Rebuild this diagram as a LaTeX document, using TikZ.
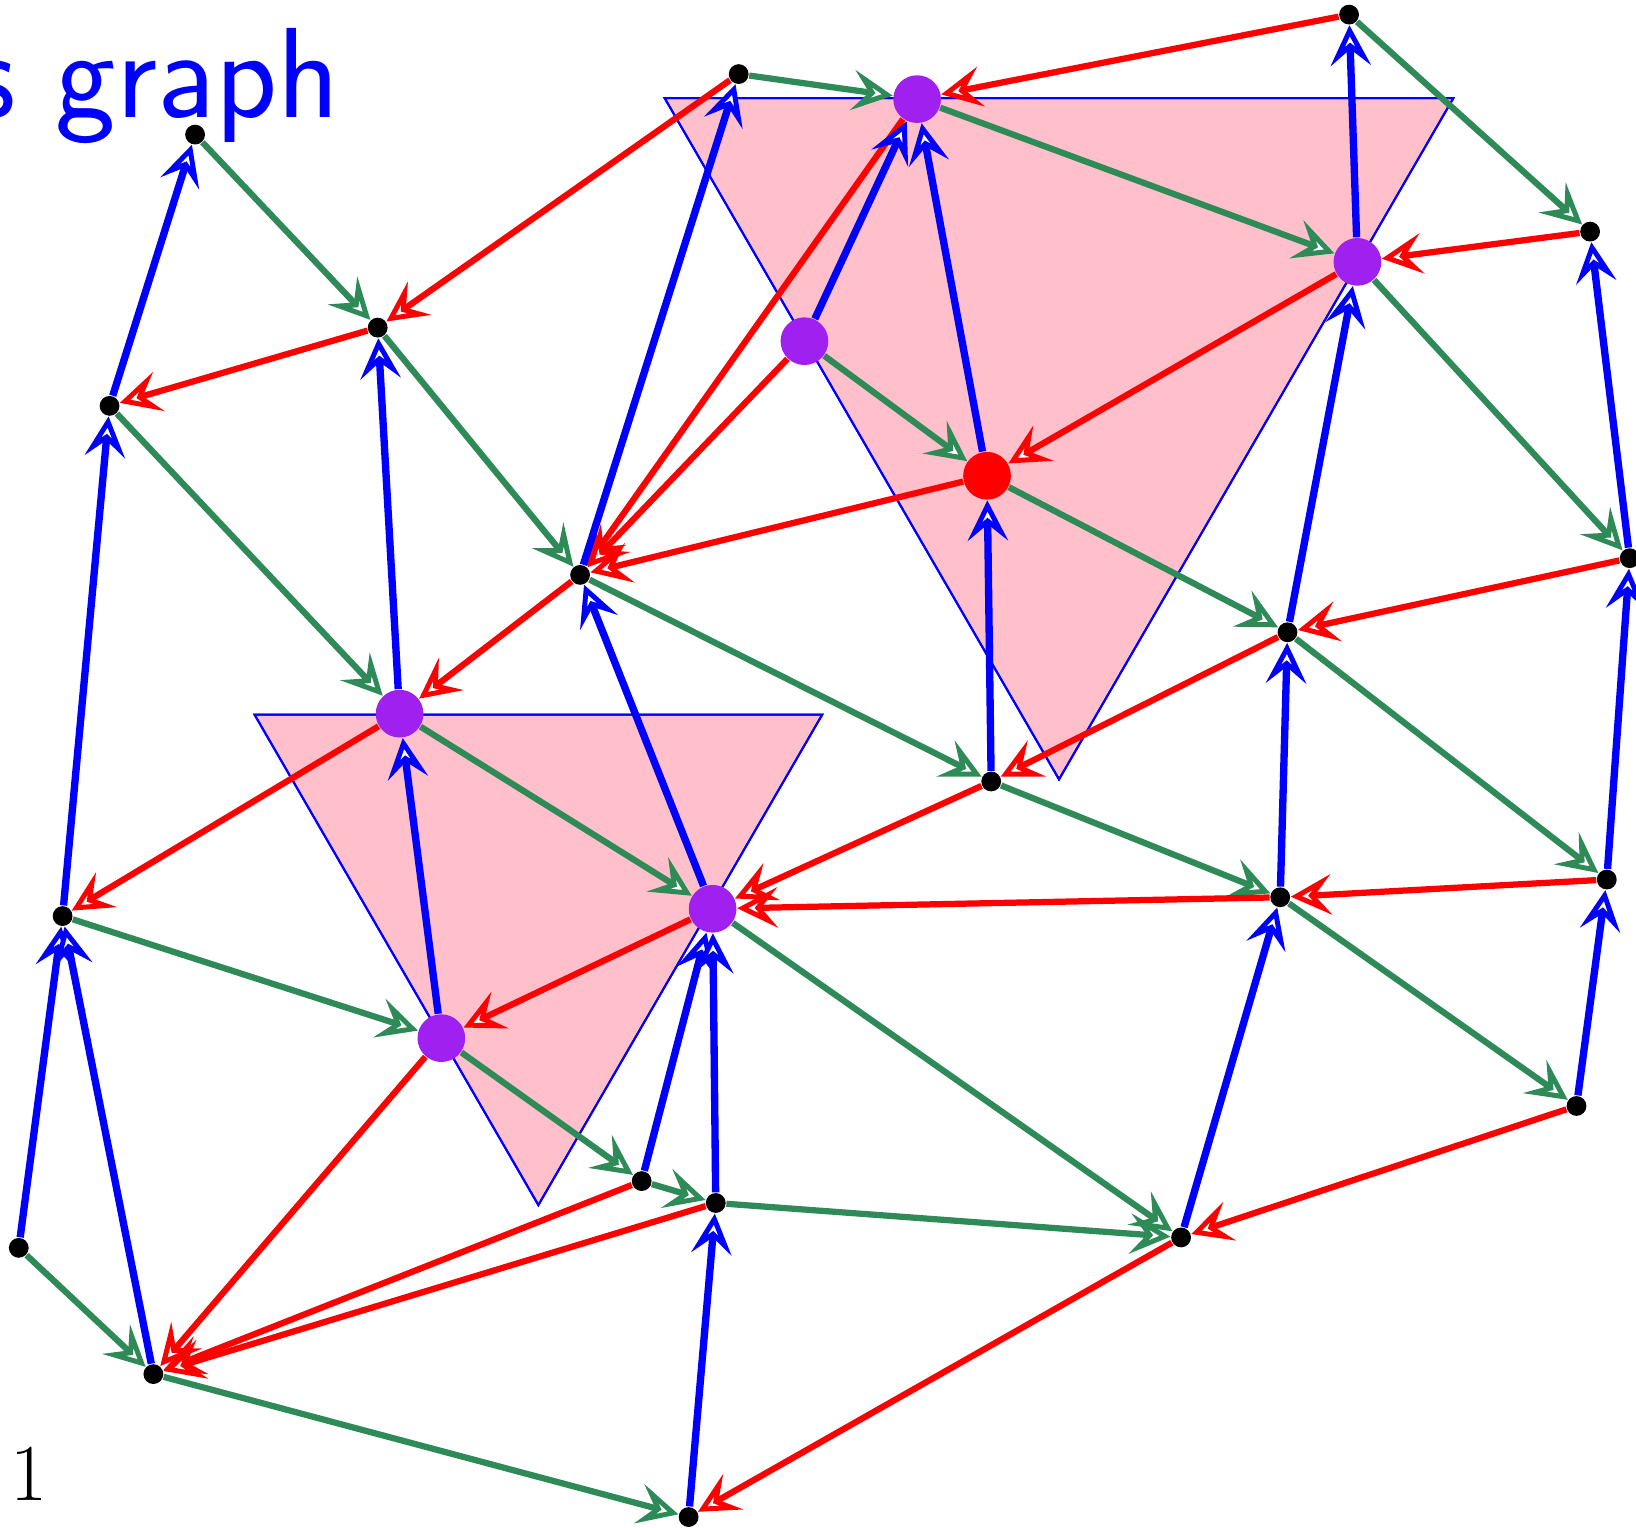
\documentclass[tikz,border=0pt]{standalone}
\usetikzlibrary{arrows.meta}
\definecolor{gpurple}{RGB}{160,32,240}
\definecolor{ggreen}{RGB}{46,139,87}
\definecolor{gpink}{RGB}{255,192,203}
\tikzset{
  dot/.style={circle, fill=black, inner sep=0pt, minimum size=5.4pt},
  pdot/.style={circle, fill=gpurple, inner sep=0pt, minimum size=13pt},
  rdot/.style={circle, fill=red, inner sep=0pt, minimum size=13pt},
  arrtip/.style={-{Stealth[length=11pt, width=11pt, inset=4.5pt, line width=1.35pt, fill=white]}},
  ge/.style={draw=ggreen, line width=1.7pt, arrtip},
  re/.style={draw=red, line width=1.7pt, arrtip},
  be/.style={draw=blue, line width=2pt, arrtip},
  tri/.style={fill=gpink, draw=blue, line width=0.55pt},
}
\begin{document}
\begin{tikzpicture}[x=0.01cm, y=-0.01cm]
\useasboundingbox (0,0) rectangle (1568,1464);
% triangles
\fill[tri] (637,94) -- (1393,94) -- (1015,747) -- cycle;
\fill[tri] (244,685) -- (788,685) -- (516,1155) -- cycle;
\draw[tri, fill=none] (637,94) -- (1393,94) -- (1015,747) -- cycle;
\draw[tri, fill=none] (244,685) -- (788,685) -- (516,1155) -- cycle;
% texts
\node[anchor=base east, inner sep=0pt, text=blue, font=\fontsize{35}{42}\selectfont\sffamily] (title) at (326,113) {s graph};
\node[anchor=base, inner sep=0pt, font=\fontsize{22}{26}\selectfont] (num) at (28,1438) {1};
% nodes
\node[dot] (A) at (708,71) {};
\node[dot] (B) at (1293,14) {};
\node[dot] (C) at (187,129) {};
\node[dot] (D) at (1524,222) {};
\node[dot] (E) at (362,314) {};
\node[dot] (F) at (105,389) {};
\node[dot] (G) at (556,551) {};
\node[dot] (H) at (1562,535) {};
\node[dot] (I) at (1234,606) {};
\node[dot] (J) at (950,749) {};
\node[dot] (K) at (60,878) {};
\node[dot] (L) at (1540,843) {};
\node[dot] (M) at (1227,860) {};
\node[dot] (N) at (1511,1060) {};
\node[dot] (O) at (18,1196) {};
\node[dot] (P) at (615,1132) {};
\node[dot] (Q) at (686,1153) {};
\node[dot] (R) at (1132,1186) {};
\node[dot] (S) at (147,1317) {};
\node[dot] (T) at (660,1454) {};
\node[pdot] (P1) at (879,95) {};
\node[pdot] (P2) at (1301,251) {};
\node[pdot] (P3) at (771,327) {};
\node[pdot] (P4) at (383,684) {};
\node[pdot] (P5) at (683,871) {};
\node[pdot] (P6) at (423,995) {};
\node[rdot] (R1) at (946,456) {};
% green edges
\draw[ge] (A) -- (P1);
\draw[ge] (P1) -- (P2);
\draw[ge] (B) -- (D);
\draw[ge] (C) -- (E);
\draw[ge] (P2) -- (H);
\draw[ge] (P3) -- (R1);
\draw[ge] (E) -- (G);
\draw[ge] (F) -- (P4);
\draw[ge] (R1) -- (I);
\draw[ge] (G) -- (J);
\draw[ge] (I) -- (L);
\draw[ge] (J) -- (M);
\draw[ge] (P4) -- (P5);
\draw[ge] (K) -- (P6);
\draw[ge] (M) -- (N);
\draw[ge] (P5) -- (R);
\draw[ge] (P6) -- (P);
\draw[ge] (P) -- (Q);
\draw[ge] (Q) -- (R);
\draw[ge] (O) -- (S);
\draw[ge] (S) -- (T);
% red edges
\draw[re] (B) -- (P1);
\draw[re] (A) -- (E);
\draw[re] (E) -- (F);
\draw[re] (D) -- (P2);
\draw[re] (P1) -- (G);
\draw[re] (P3) -- (G);
\draw[re] (P2) -- (R1);
\draw[re] (R1) -- (G);
\draw[re] (H) -- (I);
\draw[re] (G) -- (P4);
\draw[re] (I) -- (J);
\draw[re] (P4) -- (K);
\draw[re] (J) -- (P5);
\draw[re] (M) -- (P5);
\draw[re] (L) -- (M);
\draw[re] (P5) -- (P6);
\draw[re] (P6) -- (S);
\draw[re] (P) -- (S);
\draw[re] (Q) -- (S);
\draw[re] (N) -- (R);
\draw[re] (R) -- (T);
% blue edges
\draw[be] (F) -- (C);
\draw[be] (K) -- (F);
\draw[be] (O) -- (K);
\draw[be] (S) -- (K);
\draw[be] (P4) -- (E);
\draw[be] (P6) -- (P4);
\draw[be] (G) -- (A);
\draw[be] (P3) -- (P1);
\draw[be] (R1) -- (P1);
\draw[be] (J) -- (R1);
\draw[be] (P5) -- (G);
\draw[be] (P) -- (P5);
\draw[be] (Q) -- (P5);
\draw[be] (T) -- (Q);
\draw[be] (R) -- (M);
\draw[be] (M) -- (I);
\draw[be] (I) -- (P2);
\draw[be] (P2) -- (B);
\draw[be] (H) -- (D);
\draw[be] (L) -- (H);
\draw[be] (N) -- (L);
\end{tikzpicture}
\end{document}
